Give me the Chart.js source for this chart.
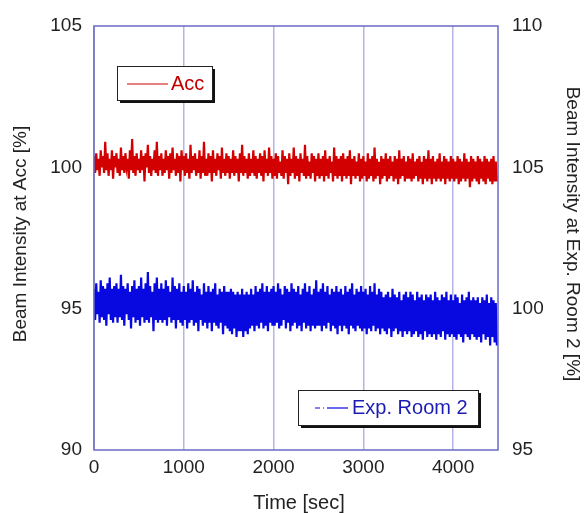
<!DOCTYPE html>
<html>
<head>
<meta charset="utf-8">
<script src="https://cdn.jsdelivr.net/npm/chart.js@4"></script>
<style>
  body { margin: 0; background: #fff; }
  canvas { display: block; }
</style>
</head>
<body>
<canvas id="chart" width="585" height="513"></canvas>
<script>
// sampling interval of both records [sec]
const timeStep = 12.5;
const xTicks = [0, 1000, 2000, 3000, 4000];
const leftTicks = [90, 95, 100, 105];
const rightTicks = [95, 100, 105, 110];

// Beam intensity at Acc [%] (left axis)
const accValues = [
  100.4, 99.8, 100.5, 99.9, 100.3, 99.7, 100.6, 100.0, 100.4, 99.8, 100.9, 99.9, 100.5, 99.7, 100.3, 99.9, 100.6, 99.6, 100.4, 100.0,
  100.5, 99.8, 100.3, 99.7, 100.7, 99.9, 100.4, 99.8, 100.5, 100.0, 100.3, 99.6, 100.6, 99.9, 101.0, 99.8, 100.4, 99.7, 100.5, 99.9,
  100.3, 99.8, 100.6, 99.9, 100.4, 99.5, 100.5, 100.0, 100.8, 99.8, 100.4, 99.7, 100.3, 99.9, 100.6, 99.8, 100.9, 99.7, 100.4, 99.9,
  100.5, 99.7, 100.3, 99.8, 100.6, 99.9, 100.4, 99.6, 100.5, 99.8, 100.7, 99.9, 100.3, 99.7, 100.5, 99.8, 100.4, 99.5, 100.6, 99.9,
  100.4, 99.7, 100.5, 99.8, 100.3, 99.6, 100.8, 99.8, 100.4, 99.9, 100.5, 99.7, 100.3, 99.8, 100.6, 99.6, 100.4, 99.8, 100.9, 99.7,
  100.3, 99.7, 100.5, 99.8, 100.4, 99.5, 100.6, 99.8, 100.3, 99.7, 100.5, 99.9, 100.4, 99.6, 100.7, 99.8, 100.3, 99.7, 100.5, 99.8,
  100.4, 99.6, 100.3, 99.8, 100.6, 99.7, 100.4, 99.8, 100.3, 99.5, 100.5, 99.8, 100.8, 99.7, 100.4, 99.8, 100.3, 99.6, 100.5, 99.7,
  100.3, 99.8, 100.6, 99.7, 100.4, 99.6, 100.3, 99.8, 100.5, 99.7, 100.4, 99.5, 100.6, 99.8, 100.3, 99.7, 100.7, 99.8, 100.4, 99.6,
  100.3, 99.7, 100.5, 99.6, 100.4, 99.8, 100.2, 99.7, 100.6, 99.6, 100.4, 99.8, 100.3, 99.4, 100.5, 99.7, 100.3, 99.8, 100.7, 99.6,
  100.4, 99.7, 100.3, 99.5, 100.5, 99.8, 100.3, 99.7, 100.8, 99.6, 100.4, 99.7, 100.2, 99.6, 100.5, 99.8, 100.4, 99.5, 100.3, 99.7,
  100.5, 99.6, 100.3, 99.7, 100.4, 99.5, 100.6, 99.7, 100.3, 99.6, 100.4, 99.8, 100.2, 99.5, 100.7, 99.7, 100.4, 99.6, 100.3, 99.7,
  100.4, 99.5, 100.5, 99.7, 100.3, 99.6, 100.4, 99.7, 100.6, 99.4, 100.3, 99.7, 100.4, 99.6, 100.2, 99.7, 100.5, 99.5, 100.3, 99.6,
  100.4, 99.7, 100.2, 99.5, 100.5, 99.6, 100.3, 99.7, 100.4, 99.5, 100.7, 99.6, 100.3, 99.7, 100.2, 99.4, 100.4, 99.6, 100.3, 99.7,
  100.5, 99.5, 100.3, 99.6, 100.4, 99.7, 100.2, 99.5, 100.4, 99.6, 100.3, 99.4, 100.6, 99.6, 100.3, 99.7, 100.4, 99.5, 100.2, 99.6,
  100.4, 99.6, 100.3, 99.5, 100.5, 99.6, 100.2, 99.7, 100.3, 99.5, 100.4, 99.6, 100.2, 99.4, 100.4, 99.6, 100.3, 99.5, 100.6, 99.6,
  100.3, 99.4, 100.4, 99.6, 100.2, 99.5, 100.3, 99.6, 100.5, 99.5, 100.2, 99.6, 100.4, 99.4, 100.3, 99.6, 100.2, 99.5, 100.4, 99.6,
  100.3, 99.5, 100.2, 99.6, 100.4, 99.4, 100.3, 99.5, 100.2, 99.6, 100.5, 99.5, 100.3, 99.6, 100.2, 99.3, 100.4, 99.5, 100.3, 99.6,
  100.2, 99.5, 100.4, 99.4, 100.3, 99.6, 100.2, 99.5, 100.4, 99.4, 100.3, 99.6, 100.2, 99.5, 100.3, 99.4, 100.4, 99.5, 100.2, 99.5
];

// Beam intensity at Exp. Room 2 [%] (right axis)
const roomValues = [
  100.7, 99.6, 100.9, 99.8, 100.6, 99.5, 101.0, 99.7, 100.8, 99.6, 100.7, 99.4, 100.9, 99.8, 101.1, 99.6, 100.7, 99.5, 100.8, 99.7,
  100.9, 99.5, 100.7, 99.7, 101.2, 99.6, 100.8, 99.4, 100.7, 99.8, 100.9, 99.6, 100.6, 99.3, 100.8, 99.7, 101.0, 99.5, 100.7, 99.6,
  100.8, 99.4, 101.1, 99.7, 100.7, 99.5, 100.9, 99.6, 101.3, 99.5, 100.8, 99.7, 100.6, 99.2, 100.9, 99.6, 101.1, 99.5, 100.7, 99.6,
  100.9, 99.5, 100.7, 99.6, 101.0, 99.4, 100.8, 99.7, 100.6, 99.5, 101.1, 99.6, 100.8, 99.3, 100.7, 99.6, 100.9, 99.5, 100.6, 99.4,
  100.8, 99.6, 100.6, 99.3, 100.9, 99.5, 100.7, 99.6, 101.0, 99.4, 100.6, 99.5, 100.8, 99.2, 100.7, 99.6, 100.5, 99.4, 100.9, 99.5,
  100.6, 99.3, 100.8, 99.5, 100.6, 99.2, 100.7, 99.5, 100.9, 99.4, 100.5, 99.3, 100.7, 99.5, 100.6, 99.1, 100.8, 99.4, 100.6, 99.3,
  100.6, 99.2, 100.7, 99.1, 100.6, 99.3, 100.5, 99.0, 100.6, 99.2, 100.5, 99.2, 100.7, 99.0, 100.5, 99.2, 100.6, 99.1, 100.5, 99.3,
  100.7, 99.4, 100.5, 99.2, 100.8, 99.4, 100.6, 99.3, 100.7, 99.5, 100.9, 99.3, 100.6, 99.4, 100.8, 99.2, 100.6, 99.5, 100.7, 99.4,
  100.8, 99.4, 100.6, 99.5, 100.9, 99.3, 100.7, 99.4, 100.5, 99.6, 100.8, 99.3, 100.7, 99.5, 100.6, 99.2, 100.9, 99.4, 100.7, 99.5,
  100.6, 99.3, 100.8, 99.4, 100.5, 99.2, 100.7, 99.5, 100.9, 99.3, 100.6, 99.4, 100.8, 99.2, 100.5, 99.4, 100.7, 99.3, 101.0, 99.4,
  100.6, 99.4, 100.7, 99.2, 100.9, 99.4, 100.6, 99.3, 100.8, 99.5, 100.5, 99.2, 100.7, 99.4, 100.6, 99.3, 100.8, 99.1, 100.6, 99.4,
  100.7, 99.2, 100.5, 99.4, 100.8, 99.3, 100.6, 99.1, 100.7, 99.4, 100.9, 99.3, 100.5, 99.2, 100.7, 99.4, 100.6, 99.3, 100.8, 99.2,
  100.6, 99.3, 100.7, 99.1, 100.5, 99.3, 100.8, 99.2, 100.6, 99.4, 100.9, 99.2, 100.5, 99.3, 100.7, 99.1, 100.6, 99.3, 100.4, 99.2,
  100.5, 99.1, 100.6, 99.3, 100.4, 99.0, 100.7, 99.2, 100.5, 99.3, 100.4, 99.1, 100.6, 99.2, 100.3, 99.0, 100.5, 99.2, 100.6, 99.1,
  100.4, 99.2, 100.6, 99.0, 100.5, 99.1, 100.3, 99.2, 100.6, 99.0, 100.4, 99.1, 100.5, 98.9, 100.3, 99.2, 100.5, 99.0, 100.4, 99.1,
  100.5, 99.0, 100.3, 99.1, 100.6, 98.9, 100.4, 99.1, 100.3, 99.0, 100.5, 99.2, 100.4, 98.9, 100.6, 99.1, 100.3, 99.0, 100.5, 99.1,
  100.3, 99.0, 100.5, 98.9, 100.4, 99.1, 100.2, 99.0, 100.5, 98.8, 100.3, 99.1, 100.4, 99.0, 100.6, 98.9, 100.3, 99.1, 100.4, 99.0,
  100.3, 98.9, 100.4, 99.0, 100.2, 98.8, 100.4, 99.1, 100.3, 98.9, 100.5, 99.0, 100.2, 98.7, 100.4, 99.0, 100.3, 98.8, 100.2, 98.7
];

const FONT = "'Liberation Sans', Arial, sans-serif";
const RED = "#d20000";
const BLUE = "#0808e0";

const toPoints = (vals) => vals.map((v, i) => ({ x: i * timeStep, y: v }));

// frame, legend boxes and rotated axis titles
const decorations = {
  id: "decorations",
  afterDatasetsDraw(chart) {
    const { ctx, chartArea: a } = chart;
    ctx.save();
    ctx.strokeStyle = "#6a6ac4";
    ctx.lineWidth = 1.5;
    ctx.strokeRect(a.left, a.top, a.right - a.left, a.bottom - a.top);

    const box = (x, y, w, h) => {
      ctx.fillStyle = "#111";
      ctx.fillRect(x + 3, y + 3, w, h);
      ctx.fillStyle = "#fff";
      ctx.fillRect(x, y, w, h);
      ctx.strokeStyle = "#222";
      ctx.lineWidth = 1;
      ctx.strokeRect(x + 0.5, y + 0.5, w, h);
    };
    ctx.font = "20px " + FONT;
    ctx.textBaseline = "middle";

    // Acc legend
    let bx = a.left + 23, by = a.top + 40;
    box(bx, by, 95, 34);
    ctx.strokeStyle = RED;
    ctx.lineWidth = 1.2;
    ctx.beginPath();
    ctx.moveTo(bx + 10, by + 18);
    ctx.lineTo(bx + 51, by + 18);
    ctx.stroke();
    ctx.fillStyle = "#c00000";
    ctx.fillText("Acc", bx + 54, by + 18);

    // Exp. Room 2 legend
    bx = a.left + 204; by = a.top + 364;
    box(bx, by, 180, 35);
    ctx.strokeStyle = BLUE;
    ctx.lineWidth = 1.2;
    ctx.setLineDash([5, 3]);
    ctx.beginPath();
    ctx.moveTo(bx + 17, by + 18);
    ctx.lineTo(bx + 26, by + 18);
    ctx.stroke();
    ctx.setLineDash([]);
    ctx.beginPath();
    ctx.moveTo(bx + 29, by + 18);
    ctx.lineTo(bx + 50, by + 18);
    ctx.stroke();
    ctx.fillStyle = "#1c1cb4";
    ctx.fillText("Exp. Room 2", bx + 54, by + 18);

    // axis titles
    ctx.fillStyle = "#222";
    ctx.textAlign = "center";
    ctx.font = "20px " + FONT;
    ctx.fillText("Time [sec]", 299, 503);

    ctx.font = "19px " + FONT;
    ctx.save();
    ctx.translate(21, 234);
    ctx.rotate(-Math.PI / 2);
    ctx.fillText("Beam Intensity at Acc [%]", 0, 0);
    ctx.restore();

    ctx.save();
    ctx.translate(572, 234);
    ctx.rotate(Math.PI / 2);
    ctx.fillText("Beam Intensity at Exp. Room 2 [%]", 0, 0);
    ctx.restore();

    ctx.restore();
  }
};

const tickFont = { family: FONT, size: 19 };

new Chart(document.getElementById("chart"), {
  type: "line",
  data: {
    datasets: [
      {
        label: "Acc",
        data: toPoints(accValues),
        yAxisID: "y",
        borderColor: RED,
        borderWidth: 2.2,
        pointRadius: 0,
        tension: 0
      },
      {
        label: "Exp. Room 2",
        data: toPoints(roomValues),
        yAxisID: "y2",
        borderColor: BLUE,
        borderWidth: 2.2,
        pointRadius: 0,
        tension: 0
      }
    ]
  },
  options: {
    responsive: false,
    animation: false,
    layout: { padding: { top: 26, left: 0, right: 0, bottom: 0 } },
    plugins: { legend: { display: false }, tooltip: { enabled: false } },
    scales: {
      x: {
        type: "linear",
        min: 0,
        max: 4500,
        afterFit: (s) => { s.height = 63; },
        afterBuildTicks: (s) => { s.ticks = xTicks.map((v) => ({ value: v })); },
        ticks: { font: tickFont, color: "#222", padding: 6, maxRotation: 0, callback: (v) => String(v) },
        grid: { color: "#b4b4e6", lineWidth: 1.5, drawTicks: false },
        border: { display: false }
      },
      y: {
        position: "left",
        min: 90,
        max: 105,
        afterFit: (s) => { s.width = 94; },
        afterBuildTicks: (s) => { s.ticks = leftTicks.map((v) => ({ value: v })); },
        ticks: { font: tickFont, color: "#222", padding: 4, callback: (v) => String(v) },
        grid: { display: false },
        border: { display: false }
      },
      y2: {
        position: "right",
        min: 95,
        max: 110,
        afterFit: (s) => { s.width = 87; },
        afterBuildTicks: (s) => { s.ticks = rightTicks.map((v) => ({ value: v })); },
        ticks: { font: tickFont, color: "#222", padding: 6, callback: (v) => String(v) },
        grid: { display: false },
        border: { display: false }
      }
    }
  },
  plugins: [decorations]
});
</script>
</body>
</html>
